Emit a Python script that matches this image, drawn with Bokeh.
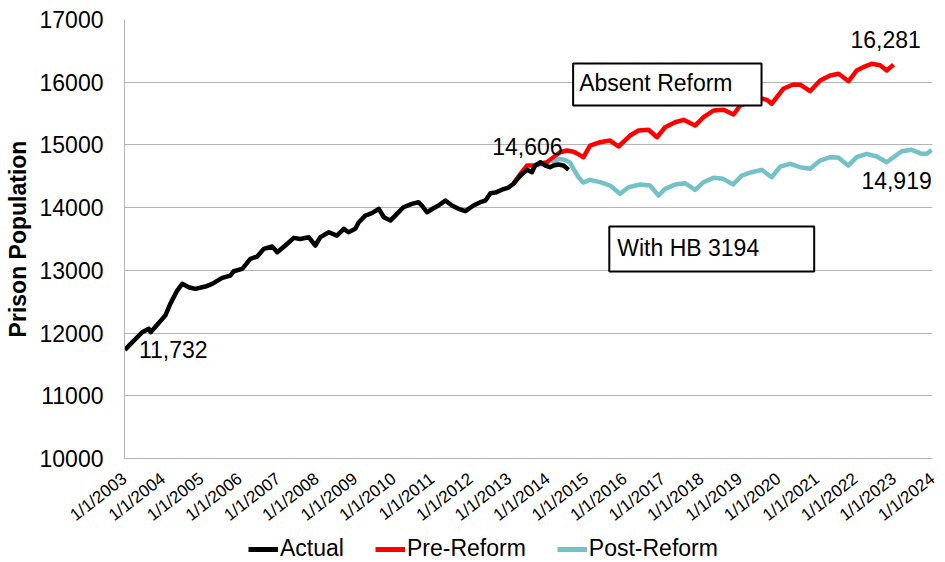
from math import radians
from bokeh.plotting import figure
from bokeh.layouts import column
from bokeh.models import FixedTicker, Label, Legend, LegendItem, Range1d
from bokeh.embed import file_html
from bokeh.resources import INLINE

FONT = "Liberation Sans"

years = list(range(2003, 2025))
tick_labels = {y: f"1/1/{y}" for y in years}
y_ticks = list(range(10000, 17001, 1000))

# Actual prison population (decimal year, population)
actual_t = [2003.01, 2003.16, 2003.46, 2003.63, 2003.68, 2004.06, 2004.19, 2004.37, 2004.50,
            2004.67, 2004.84, 2005.10, 2005.28, 2005.54, 2005.75, 2005.84, 2006.06, 2006.27,
            2006.45, 2006.62, 2006.84, 2006.97, 2007.18, 2007.40, 2007.57, 2007.79, 2007.96,
            2008.09, 2008.31, 2008.52, 2008.70, 2008.82, 2009.00, 2009.08, 2009.26, 2009.43,
            2009.61, 2009.74, 2009.91, 2010.08, 2010.25, 2010.47, 2010.64, 2010.73, 2010.86,
            2011.03, 2011.16, 2011.34, 2011.51, 2011.68, 2011.86, 2012.07, 2012.25, 2012.38,
            2012.51, 2012.64, 2012.81, 2012.98, 2013.11, 2013.29, 2013.46, 2013.59, 2013.67,
            2013.81, 2013.94, 2014.06, 2014.15, 2014.28, 2014.41, 2014.54]
actual_v = [11732, 11828, 12013, 12067, 12013, 12279, 12466, 12678, 12785,
            12731, 12705, 12742, 12785, 12880, 12917, 12986, 13024, 13184,
            13220, 13343, 13380, 13289, 13396, 13518, 13500, 13530, 13396,
            13530, 13608, 13555, 13662, 13608, 13662, 13760, 13874, 13911,
            13981, 13847, 13794, 13900, 14006, 14061, 14087, 14034, 13927,
            13990, 14034, 14113, 14034, 13981, 13944, 14034, 14087, 14113,
            14230, 14240, 14286, 14320, 14380, 14512, 14603, 14565, 14671,
            14724, 14671, 14645, 14671, 14687, 14671, 14606]

# Projection absent reform
pre_t = [2013.11, 2013.29, 2013.46, 2013.64, 2013.81, 2013.98, 2014.15, 2014.32, 2014.50,
         2014.67, 2014.80, 2014.93, 2015.10, 2015.36, 2015.62, 2015.84, 2016.14, 2016.36,
         2016.62, 2016.84, 2017.05, 2017.31, 2017.53, 2017.83, 2018.05, 2018.31, 2018.57,
         2018.83, 2019.00, 2019.22, 2019.48, 2019.70, 2019.82, 2020.12, 2020.38, 2020.56,
         2020.82, 2021.08, 2021.34, 2021.56, 2021.82, 2022.03, 2022.20, 2022.42, 2022.64,
         2022.81, 2022.99]
pre_v = [14380, 14539, 14671, 14671, 14700, 14724, 14804, 14884, 14911,
         14890, 14850, 14804, 14990, 15043, 15070, 14975, 15150, 15230,
         15241, 15123, 15282, 15362, 15400, 15309, 15442, 15549, 15560,
         15485, 15628, 15681, 15750, 15719, 15655, 15895, 15963, 15960,
         15857, 16027, 16107, 16134, 16016, 16187, 16240, 16293, 16270,
         16187, 16281]

# Projection with HB 3194
post_t = [2014.11, 2014.28, 2014.45, 2014.58, 2014.67, 2014.80, 2014.92, 2015.10, 2015.36,
          2015.62, 2015.88, 2016.10, 2016.40, 2016.66, 2016.88, 2017.05, 2017.31, 2017.57,
          2017.83, 2018.05, 2018.31, 2018.56, 2018.82, 2019.04, 2019.30, 2019.56, 2019.82,
          2020.04, 2020.30, 2020.56, 2020.82, 2021.08, 2021.34, 2021.55, 2021.81, 2022.03,
          2022.29, 2022.55, 2022.81, 2022.98, 2023.20, 2023.46, 2023.72, 2023.85, 2023.98]
post_v = [14699, 14778, 14760, 14720, 14619, 14485, 14400, 14443, 14406,
          14352, 14220, 14326, 14368, 14352, 14193, 14300, 14368, 14390,
          14284, 14406, 14475, 14459, 14368, 14512, 14565, 14603, 14485,
          14655, 14699, 14645, 14619, 14751, 14804, 14800, 14671, 14804,
          14858, 14815, 14724, 14800, 14900, 14922, 14858, 14858, 14919]

series_names = ["Actual", "Pre-Reform", "Post-Reform"]
series_colors = ["#000000", "#ff0000", "#74c2c7"]
series_t = [actual_t, pre_t, post_t]
series_v = [actual_v, pre_v, post_v]

p = figure(width=945, height=536, output_backend="svg", toolbar_location=None,
           x_range=(2003, 2024), y_range=(10000, 17000),
           min_border_left=124, min_border_right=13, min_border_top=19, min_border_bottom=78)
p.outline_line_color = None
p.background_fill_color = "white"
p.border_fill_color = "white"

# Axes
p.xaxis.ticker = FixedTicker(ticks=years)
p.xaxis.major_label_overrides = tick_labels
p.xaxis.major_label_orientation = radians(38)
p.xaxis.major_label_text_font = FONT
p.xaxis.major_label_text_font_size = "17px"
p.xaxis.major_label_text_color = "black"
p.xaxis.axis_line_color = "#b4b4b4"
p.xaxis.major_tick_line_color = None
p.xaxis.minor_tick_line_color = None
p.xaxis.major_tick_out = 0
p.xaxis.major_label_standoff = 18

p.yaxis.ticker = FixedTicker(ticks=y_ticks)
p.yaxis.major_label_text_font = FONT
p.yaxis.major_label_text_font_size = "23px"
p.yaxis.major_label_text_color = "black"
p.yaxis.axis_line_color = "#b4b4b4"
p.yaxis.major_tick_line_color = None
p.yaxis.minor_tick_line_color = None
p.yaxis.major_tick_out = 0
p.yaxis.major_label_standoff = 21
p.yaxis.axis_label = "Prison Population"
p.yaxis.axis_label_text_font = FONT
p.yaxis.axis_label_text_font_style = "bold"
p.yaxis.axis_label_text_font_size = "23px"
p.yaxis.axis_label_text_color = "black"
p.yaxis.axis_label_standoff = 6

p.xgrid.visible = False
p.ygrid.grid_line_color = "#b4b4b4"
p.ygrid.grid_line_width = 1

# Lines (projections first so the actual series sits on top)
for i in (1, 2, 0):
    p.line(series_t[i], series_v[i], line_color=series_colors[i], line_width=4.5,
           line_join="round")

# Data labels
def data_label(x, y, val, xo, yo, align):
    p.add_layout(Label(x=x, y=y, text=f"{val:,}", x_offset=xo, y_offset=yo,
                       text_align=align, text_baseline="middle", text_font=FONT,
                       text_font_size="23px", text_color="black"))

data_label(actual_t[0], actual_v[0], actual_v[0], 14, 0, "left")
data_label(actual_t[-1], actual_v[-1], actual_v[-1], -6, 23, "right")
data_label(pre_t[-1], pre_v[-1], pre_v[-1], -8, 25, "center")
data_label(post_t[-1], post_v[-1], post_v[-1], 0, -30, "right")

# Text boxes
for txt, bx, by, pad in [("Absent Reform", 2014.66, 15963, (6, 29, 6, 10)),
                         ("With HB 3194", 2015.60, 13340, (8, 55, 8, 11))]:
    p.add_layout(Label(x=bx, y=by, text=txt, text_align="left", text_baseline="middle",
                       text_font=FONT, text_font_size="23px", text_color="black",
                       border_line_color="black", border_line_width=2,
                       background_fill_color="white", padding=pad))

# Legend strip below the chart (its lines fall outside its own view; only the key shows)
leg = figure(width=945, height=26, output_backend="svg", toolbar_location=None,
             x_range=Range1d(0, 1), y_range=Range1d(0, 1),
             min_border=0, min_border_left=0, min_border_right=0,
             min_border_top=0, min_border_bottom=0)
leg.axis.visible = False
leg.grid.visible = False
leg.outline_line_color = None
leg.border_fill_color = "white"
leg_items = []
for name, col, t, v in zip(series_names, series_colors, series_t, series_v):
    r = leg.line(t, v, line_color=col, line_width=5)
    leg_items.append(LegendItem(label=name, renderers=[r]))
legend = Legend(items=leg_items, orientation="horizontal", location=(124, 0),
                padding=0, margin=0, spacing=31, label_standoff=2,
                glyph_width=30, glyph_height=20,
                label_text_font=FONT, label_text_font_size="23px", label_text_color="black",
                border_line_color=None, background_fill_alpha=0)
leg.add_layout(legend)

layout = column(p, leg, spacing=0)
open("out.html", "w").write(file_html(layout, INLINE))
